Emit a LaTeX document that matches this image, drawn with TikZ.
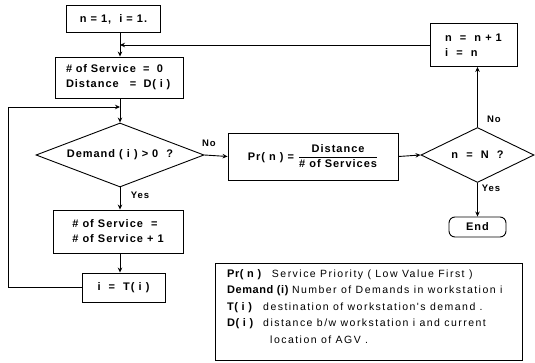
\documentclass[tikz,border=0pt]{standalone}
\usepackage{fontspec}
\setmainfont{Liberation Sans}[LetterSpace=9]
\newfontfamily\legfont{Liberation Sans}[LetterSpace=14]
\newfontfamily\leglab{Liberation Sans Bold}[LetterSpace=5]
\usetikzlibrary{arrows.meta,shapes.geometric}
\begin{document}
\begin{tikzpicture}[x=1pt,y=-1pt]
\tikzset{
  fc/.style={draw, line width=0.9pt, font=\fontsize{11}{15}\selectfont\bfseries, inner sep=2pt},
  dia/.style={fc, diamond, inner sep=0pt},
  arr/.style={line width=0.9pt, -{Stealth[length=5pt,width=4.5pt]}},
  lbl/.style={font=\fontsize{9.5}{11}\selectfont\bfseries, inner sep=0pt},
}
\useasboundingbox (0,0) rectangle (535,363);
\node[fc, minimum width=94, minimum height=27] (n1) at (113.5,19) {n = 1,\ \ i = 1.};
\node[fc, align=left, text width=106, inner xsep=11pt, minimum height=41] (s0) at (119,77.5)
  {\# of Service\ \ =\ \ 0\\Distance\ \ \ =\ \ D( i )};
\node[dia, aspect=2.625, minimum width=168, minimum height=64] (d1) at (120,155) {Demand ( i ) > 0\ \ ?};
\node[fc, minimum width=170, minimum height=47] (pr) at (313,156.5)
  {Pr( n ) = $\displaystyle\frac{\hbox{Distance}}{\hbox{\# of Services}}$};
\node[dia, aspect=2.05, minimum width=113, minimum height=55] (d2) at (477.5,155) {n\ \ =\ \ N\ \ ?};
\node[fc, align=left, minimum width=87, minimum height=43] (b5) at (473.5,45) {n\ \ =\ \ n + 1\\i\ \ =\ \ n};
\node[fc, rounded corners=6pt, minimum width=57, minimum height=20] (end) at (477.5,227) {End};
\node[fc, align=left, minimum width=130, minimum height=43] (b3) at (118,231.5)
  {\# of Service\ \ =\\\# of Service + 1};
\node[fc, minimum width=83, minimum height=29] (b4) at (123.5,287.5) {i\ \ =\ \ T( i )};

\coordinate (m1) at (120,43);
\coordinate (m2) at (120,107);
\coordinate (c1) at (8,107);

\draw[arr] (n1.south -| m1) -- (s0.north -| m1);
\draw[arr] (b5.west) -- (b5.west -| m1);
\draw[arr] (s0.south -| m1) -- (d1.north);
\draw[arr] (b4.west) -| (c1) -- (m2);
\draw[arr] (d1.east) -- (pr.west);
\draw[arr] (pr.east) -- (d2.west);
\draw[arr] (d2.north) -- (d2.north |- b5.south);
\draw[arr] (d2.south) -- (end.north);
\draw[arr] (d1.south) -- (d1.south |- b3.north);
\draw[arr] (b3.south -| m1) -- (b4.north -| m1);

\node[lbl] (no1) at (209,143) {No};
\node[lbl] (yes1) at (140,195) {Yes};
\node[lbl] (no2) at (494,119) {No};
\node[lbl] (yes2) at (491,188) {Yes};

\node[draw, line width=0.8pt, minimum width=307, minimum height=97, anchor=north west] (leg) at (215,263) {};
\node[anchor=north west, inner sep=0pt, align=left, font=\leglab\fontsize{11}{16.5}\selectfont] (legtext) at ([xshift=12pt,yshift=-6pt]leg.north west)
  {Pr( n )\ \ \ {\legfont\fontsize{10.5}{16.5}\selectfont Service Priority ( Low Value First )}\\
   Demand (i)\ {\legfont\fontsize{10.5}{16.5}\selectfont Number of Demands in workstation i}\\
   \makebox[36pt][l]{T( i )}{\legfont\fontsize{10.5}{16.5}\selectfont destination of workstation's demand .}\\
   \makebox[36pt][l]{D( i )}{\legfont\fontsize{10.5}{16.5}\selectfont distance b/w workstation i and current}\\
   \hspace*{43pt}{\legfont\fontsize{10.5}{16.5}\selectfont location of AGV .}};
\end{tikzpicture}
\end{document}
